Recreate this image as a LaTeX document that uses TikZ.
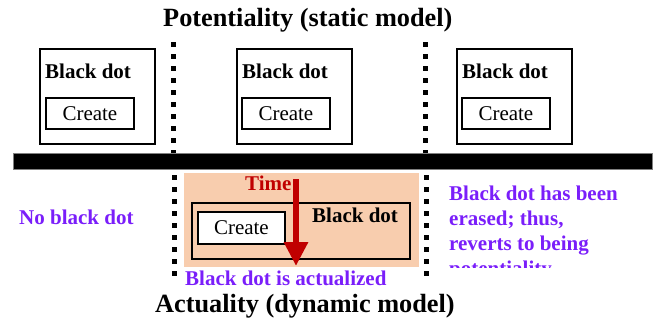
\documentclass[tikz,border=0pt]{standalone}
\usepackage{fontspec}
\setmainfont{Liberation Serif}
\usetikzlibrary{arrows.meta}
\definecolor{vio}{RGB}{122,30,250}
\definecolor{dred}{RGB}{192,0,0}
\definecolor{peach}{RGB}{248,205,174}
\begin{document}
\begin{tikzpicture}[x=1pt,y=-1pt,
  frame/.style={draw,line width=1.8pt,inner sep=0,anchor=north west},
  cbox/.style={draw,line width=1.8pt,fill=white,inner sep=0,anchor=north west,font=\fontsize{21}{25}\selectfont},
  bold/.style={inner sep=0,anchor=base west,font=\fontsize{21}{25}\selectfont\bfseries},
  vtext/.style={bold,text=vio},
  titletext/.style={inner sep=0,anchor=base west,font=\fontsize{26.3}{30}\selectfont\bfseries},
  dots/.style={line width=5pt,dash pattern=on 5pt off 7pt}]
\useasboundingbox (0,0) rectangle (654,322);
% title
\node[titletext] (t1) at (163,26.5) {Potentiality (static model)};
% top boxes
\node[frame,minimum width=115pt,minimum height=95pt] (b1) at (39,48) {};
\node[bold] (l1) at (45,78) {Black dot};
\node[cbox,minimum width=88pt,minimum height=31pt] (c1) at (45,97) {Create};
\node[frame,minimum width=115pt,minimum height=95pt] (b2) at (236,48) {};
\node[bold] (l2) at (242,78) {Black dot};
\node[cbox,minimum width=88pt,minimum height=31pt] (c2) at (241,97) {Create};
\node[frame,minimum width=115pt,minimum height=95pt] (b3) at (456,48) {};
\node[bold] (l3) at (462,78) {Black dot};
\node[cbox,minimum width=88pt,minimum height=31pt] (c3) at (461,97) {Create};
% dotted separators (top)
\coordinate (d1t) at (173.5,42);
\coordinate (d1b) at (173.5,156);
\coordinate (d2t) at (425,42);
\coordinate (d2b) at (425,156);
\draw[dots] (d1t) -- (d1b);
\draw[dots] (d2t) -- (d2b);
% bar
\node[fill=black,draw=gray,line width=0.6pt,inner sep=0,anchor=north west,minimum width=639pt,minimum height=16pt] (bar) at (13,153) {};
% bottom
\node[fill=peach,inner sep=0,anchor=north west,minimum width=235pt,minimum height=94pt] (pe) at (184,173) {};
\node[frame,minimum width=218pt,minimum height=56pt] (ib) at (191,202) {};
\node[cbox,minimum width=87pt,minimum height=32pt] (c4) at (197,211) {Create};
\node[bold] (l4) at (312,222) {Black dot};
\node[bold,text=dred] (time) at (245,190) {Time};
\coordinate (ar1) at (296,179);
\coordinate (ar2) at (296,266);
\draw[dred,line width=6.5pt,-{Triangle[width=23pt,length=24pt]}] (ar1) -- (ar2);
\coordinate (d3t) at (174.5,175);
\coordinate (d3b) at (174.5,277);
\coordinate (d4t) at (426,175);
\coordinate (d4b) at (426,277);
\draw[dots] (d3t) -- (d3b);
\draw[dots] (d4t) -- (d4b);
\node[vtext] (nb) at (19,224) {No black dot};
\node[vtext] (act) at (185,285) {Black dot is actualized};
\begin{scope}
\clip (440,170) rectangle (654,267.5);
\node[vtext,align=left] (er) at (449,275) {Black dot has been\\erased; thus,\\reverts to being\\potentiality};
\end{scope}
\node[titletext] (t2) at (155,312) {Actuality (dynamic model)};
\end{tikzpicture}
\end{document}
